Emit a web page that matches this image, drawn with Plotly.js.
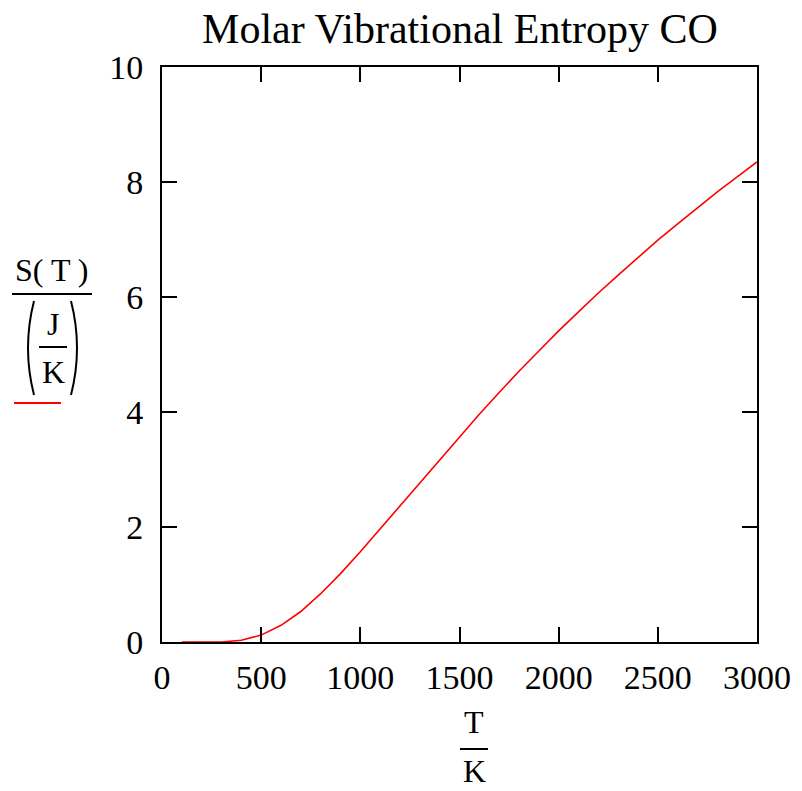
<!DOCTYPE html>
<html>
<head>
<meta charset="utf-8">
<script src="https://cdn.plot.ly/plotly-3.0.1.min.js"></script>
<style>html,body{margin:0;padding:0;background:#fff;}#chart{width:802px;height:791px;}</style>
</head>
<body>
<div id="chart"></div>
<script>
// Temperature T/K
const temperature = [100, 200, 300, 400, 500, 600, 700, 800, 900, 1000,
  1100, 1200, 1300, 1400, 1500, 1600, 1700, 1800, 1900, 2000,
  2100, 2200, 2300, 2400, 2500, 2600, 2700, 2800, 2900, 3000];
// Molar vibrational entropy S(T) in J/K
const entropy = [0.00, 0.00, 0.00, 0.03, 0.12, 0.29, 0.53, 0.84, 1.19, 1.57,
  1.97, 2.37, 2.78, 3.18, 3.57, 3.96, 4.34, 4.71, 5.06, 5.41,
  5.74, 6.07, 6.38, 6.69, 6.99, 7.27, 7.55, 7.83, 8.09, 8.35];
const xTickVals = [0, 500, 1000, 1500, 2000, 2500, 3000];
const yTickVals = [0, 2, 4, 6, 8, 10];
const titleText = 'Molar Vibrational Entropy CO';

const W = 802, H = 791;
const M = {l: 162, r: 45, t: 67, b: 149};
const PW = W - M.l - M.r, PH = H - M.t - M.b;
const px = x => (x - M.l) / PW;
const py = y => (H - M.b - y) / PH;
const FONT = '"Liberation Serif", "Times New Roman", serif';

function txt(text, x, y, size) {
  return {text: text, x: px(x), y: py(y), xref: 'paper', yref: 'paper',
    showarrow: false, xanchor: 'center', yanchor: 'middle',
    font: {family: FONT, size: size, color: '#000'}};
}
function hline(x0, x1, y, color, w) {
  return {type: 'line', xref: 'paper', yref: 'paper', x0: px(x0), x1: px(x1),
    y0: py(y), y1: py(y), line: {color: color, width: w}};
}
function pathShape(pts) {
  const d = 'M' + px(pts[0][0]) + ',' + py(pts[0][1]) +
    ' Q' + px(pts[1][0]) + ',' + py(pts[1][1]) + ' ' + px(pts[2][0]) + ',' + py(pts[2][1]);
  return {type: 'path', xref: 'paper', yref: 'paper', path: d, line: {color: '#000', width: 2}};
}

const trace = {
  x: temperature, y: entropy, type: 'scatter', mode: 'lines',
  line: {color: '#ff0000', width: 1.6},
  hoverinfo: 'skip', showlegend: false
};

const axisCommon = {
  showline: true, linecolor: '#000', linewidth: 2, mirror: 'ticks',
  ticks: 'inside', ticklen: 15, tickwidth: 2, tickcolor: '#000',
  showgrid: false, zeroline: false,
  tickfont: {family: FONT, size: 34, color: '#000'}
};

const layout = {
  width: W, height: H,
  margin: M,
  paper_bgcolor: '#fff', plot_bgcolor: '#fff',
  title: {text: titleText, x: px(460), xref: 'paper', xanchor: 'center',
    y: 1 - 28 / H, yref: 'container', yanchor: 'middle',
    font: {family: FONT, size: 42, color: '#000'}},
  xaxis: Object.assign({}, axisCommon, {range: [0, 3000], tickvals: xTickVals,
    ticktext: xTickVals.map(String), ticklabelstandoff: 4}),
  yaxis: Object.assign({}, axisCommon, {range: [0, 10], tickvals: yTickVals,
    ticktext: yTickVals.map(String), ticklabelstandoff: 10}),
  annotations: [
    txt('S( T )', 52, 270, 32),
    txt('J', 53, 324, 32),
    txt('K', 53, 372, 32),
    txt('T', 474, 722, 32),
    txt('K', 474, 771, 32)
  ],
  shapes: [
    hline(12, 92, 294, '#000', 2),
    hline(39, 67, 347, '#000', 2),
    hline(14, 61, 403, '#ff0000', 2),
    hline(460, 488, 749, '#000', 2),
    pathShape([[34, 301], [22, 348], [34, 395]]),
    pathShape([[71, 301], [83, 348], [71, 395]])
  ]
};

Plotly.newPlot('chart', [trace], layout, {staticPlot: true, displayModeBar: false});
</script>
</body>
</html>
